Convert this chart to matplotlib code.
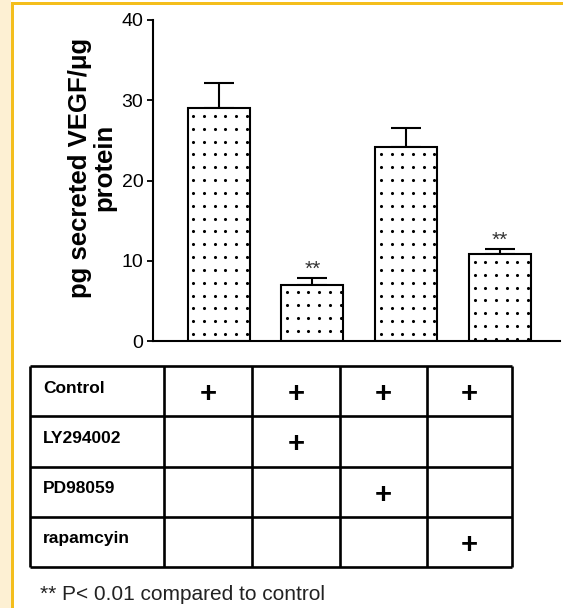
import numpy as np
import matplotlib
matplotlib.use('Agg')
import matplotlib.pyplot as plt
from matplotlib.patches import Rectangle

plt.rcParams['font.family'] = ['Liberation Sans', 'DejaVu Sans']

# VEGF secretion per treatment group
grupos = ['Control', 'LY294002', 'PD98059', 'rapamcyin']
vegf = [29.0, 7.0, 24.2, 10.8]
erro = [3.1, 0.9, 2.4, 0.7]
signif = ['', '**', '', '**']

# which treatments each bar received (rows = treatments, cols = bars)
tratamentos = ['Control', 'LY294002', 'PD98059', 'rapamcyin']
presenca = [[1, 1, 1, 1],
            [0, 1, 0, 0],
            [0, 0, 1, 0],
            [0, 0, 0, 1]]

W, H = 563, 608
fig = plt.figure(figsize=(W / 100, H / 100), dpi=100)
fig.patch.set_facecolor('white')

def px(x0, y0, x1, y1):
    # pixel box (top-left origin) -> figure fraction rect
    return [x0 / W, 1 - y1 / H, (x1 - x0) / W, (y1 - y0) / H]

# page frame
fig.add_artist(Rectangle((0, 0), 11 / W, 1, transform=fig.transFigure,
                         facecolor='#fdf0d3', edgecolor='none'))
fig.add_artist(Rectangle((11 / W, 0), 3 / W, 1 - 2 / H, transform=fig.transFigure,
                         facecolor='#f4be1c', edgecolor='none'))
fig.add_artist(Rectangle((11 / W, 1 - 5 / H), 1 - 11 / W, 3 / H, transform=fig.transFigure,
                         facecolor='#f4be1c', edgecolor='none'))

# bar chart
ax = fig.add_axes(px(153, 20, 560, 341))
pos = np.arange(len(vegf))
larg = 0.66
ax.bar(pos, vegf, width=larg, color='white', edgecolor='black', linewidth=1.5, zorder=2)
ax.errorbar(pos, vegf, yerr=[np.zeros(len(erro)), erro], fmt='none', ecolor='black',
            elinewidth=1.5, capsize=11, capthick=1.5, zorder=1)

# dotted fill of each bar
for p, v in zip(pos, vegf):
    ys = np.arange(v - 0.95, 0.2, -1.6)
    xs = p - larg / 2 + 0.06 + 0.114 * np.arange(6)
    gx, gy = np.meshgrid(xs, ys)
    ax.scatter(gx.ravel(), gy.ravel(), s=5, color='black', marker='o', linewidths=0, zorder=3)

for p, v, e, s in zip(pos, vegf, erro, signif):
    if s:
        ax.text(p, v + e + 1.0, s, ha='center', va='center', fontsize=15, color='#333333')

ax.set_xlim(-0.70, 3.64)
ax.set_ylim(0, 40)
ax.set_yticks([0, 10, 20, 30, 40])
ax.tick_params(axis='y', length=4, width=1.3, labelsize=14, pad=3)
ax.tick_params(axis='x', bottom=False, labelbottom=False)
for s in ['top', 'right']:
    ax.spines[s].set_visible(False)
ax.spines['left'].set_linewidth(1.5)
ax.spines['bottom'].set_linewidth(1.5)
ax.patch.set_alpha(0)
ax.set_ylabel('pg secreted VEGF/\u03bcg\nprotein', fontsize=18.5, fontweight='bold',
              linespacing=1.0)
ax.yaxis.set_label_coords(-0.09, 0.54)

# treatment table
tab = fig.add_axes(px(30, 366, 512, 567))
tab.set_xlim(0, 482)
tab.set_ylim(len(tratamentos), 0)
tab.axis('off')
col_x = [0, 134, 222, 310, 397, 482]
tab.vlines(col_x, 0, len(tratamentos), color='black', linewidth=1.9, clip_on=False)
tab.hlines(np.arange(len(tratamentos) + 1), 0, 482, color='black', linewidth=1.9, clip_on=False)
for i, nome in enumerate(tratamentos):
    tab.text(13, i + 0.44, nome, ha='left', va='center', fontsize=12.5, fontweight='bold')
    for j, m in enumerate(presenca[i]):
        if m:
            cx = (col_x[j + 1] + col_x[j + 2]) / 2
            tab.text(cx, i + 0.56, '+', ha='center', va='center', fontsize=21, fontweight='bold')

fig.text(40 / W, 1 - 595 / H, '** P< 0.01 compared to control', fontsize=15,
         ha='left', va='center', color='#222222')

fig.savefig('out.png', dpi=100)
